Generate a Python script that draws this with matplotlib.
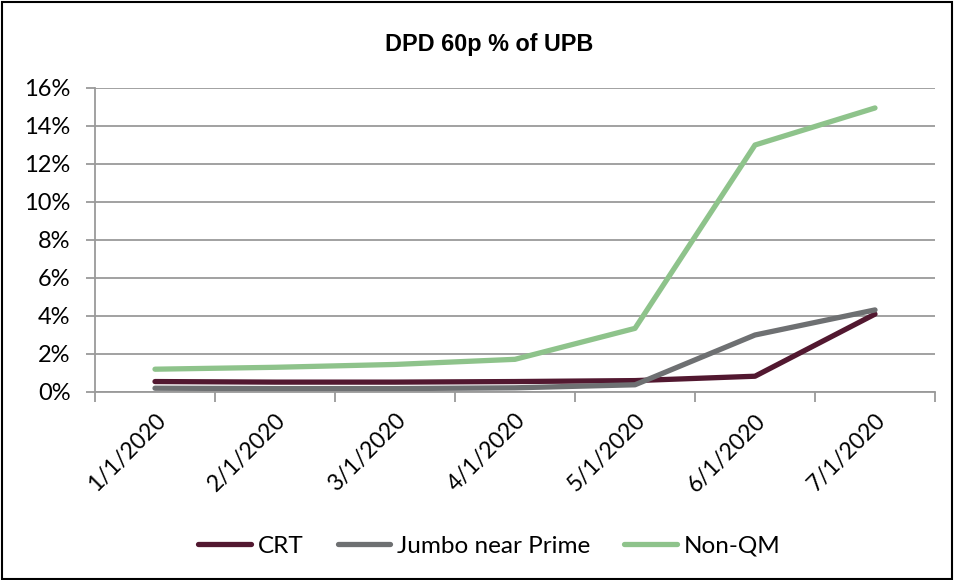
import matplotlib
matplotlib.use("Agg")
import matplotlib.pyplot as plt
from matplotlib.patches import Rectangle
from matplotlib.ticker import FuncFormatter

dates = ["1/1/2020", "2/1/2020", "3/1/2020", "4/1/2020", "5/1/2020", "6/1/2020", "7/1/2020"]
crt = [0.55, 0.52, 0.52, 0.55, 0.6, 0.83, 4.1]
jumbo = [0.2, 0.18, 0.18, 0.22, 0.38, 3.0, 4.32]
non_qm = [1.2, 1.3, 1.45, 1.72, 3.35, 13.0, 14.95]

plt.rcParams['font.family'] = ['Lato', 'DejaVu Sans']

fig = plt.figure(figsize=(9.56, 5.8), dpi=100)
ax = fig.add_axes([95 / 956, 1 - 392 / 580, 840 / 956, 304 / 580])

x = list(range(len(dates)))
ax.plot(x, crt, color='#521830', lw=3.8, label='CRT', solid_capstyle='round')
ax.plot(x, jumbo, color='#6E7072', lw=3.8, label='Jumbo near Prime', solid_capstyle='round')
ax.plot(x, non_qm, color='#8EC38B', lw=3.8, label='Non-QM', solid_capstyle='round')

ax.set_xlim(-0.5, 6.5)
ax.set_ylim(0, 16)
ax.set_yticks(range(0, 17, 2))
ax.yaxis.set_major_formatter(FuncFormatter(lambda v, p: f"{int(v)}%"))
ax.grid(axis='y', color='#9A9A9A', lw=1.3)
ax.set_axisbelow(True)

ax.set_xticks(x)
ax.set_xticklabels(dates, rotation=45, ha='right', va='top', rotation_mode='anchor')
ax.set_xticks([i - 0.5 for i in range(len(dates) + 1)], minor=True)
ax.tick_params(axis='x', which='major', length=0, pad=13, labelsize=16.5)
ax.tick_params(axis='x', which='minor', length=7, color='#9A9A9A', width=1.3)
ax.tick_params(axis='y', length=6.5, color='#9A9A9A', width=1.3, labelsize=17, pad=11)

for s in ['top', 'right']:
    ax.spines[s].set_visible(False)
for s in ['left', 'bottom']:
    ax.spines[s].set_color('#9A9A9A')
    ax.spines[s].set_linewidth(1.3)

fig.text(0.512, 1 - 44 / 580, "DPD 60p % of UPB", ha='center', va='center',
         fontsize=16.8, fontweight='bold', family='Liberation Sans')

fig.legend(loc='center', bbox_to_anchor=(0.512, 1 - 546 / 580), ncol=3, frameon=False,
           fontsize=17.5, handlelength=2.15, handletextpad=0.3, columnspacing=1.4)

fig.patches.append(Rectangle((0.002, 0.002), 0.994, 0.995, transform=fig.transFigure,
                             fill=False, edgecolor='black', lw=1.5))

fig.savefig("out.png", dpi=100)
